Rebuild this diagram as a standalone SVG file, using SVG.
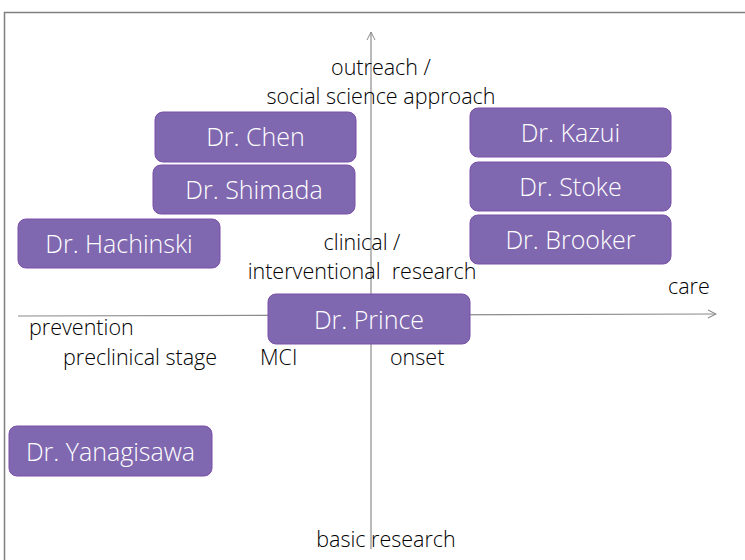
<svg xmlns="http://www.w3.org/2000/svg" width="745" height="560" viewBox="0 0 745 560">
  <defs>
    <marker id="arrow" viewBox="0 0 10 10" refX="9" refY="5" markerWidth="10" markerHeight="10" markerUnits="userSpaceOnUse" orient="auto">
      <path d="M1,1 L9,5 L1,9" fill="none" stroke="#8c8c8c" stroke-width="1"/>
    </marker>
  </defs>
  <style>
    .axis { stroke: #8c8c8c; stroke-width: 1.2; fill: none; }
    .frame { stroke: #7f7f7f; stroke-width: 1.5; fill: #ffffff; }
    .box rect { fill: #7f68af; stroke: #7a4fa8; stroke-width: 1; }
    .box text { fill: #ffffff; font-family: "Open Sans", "Liberation Sans", sans-serif; font-weight: 300; font-size: 25px; text-anchor: middle; }
    .lbl { fill: #000000; font-family: "Open Sans", "Liberation Sans", sans-serif; font-weight: 300; font-size: 21.5px; }
  </style>

  <!-- slide frame -->
  <rect class="frame" x="4.5" y="12.5" width="760" height="560"/>

  <!-- axes -->
  <g id="connectors">
    <line class="axis" x1="371" y1="549" x2="371" y2="32" marker-end="url(#arrow)"/>
    <line class="axis" x1="18" y1="316" x2="716" y2="314" marker-end="url(#arrow)"/>
  </g>

  <!-- axis labels -->
  <g id="labels">
    <text class="lbl" x="381" y="75" text-anchor="middle">outreach /</text>
    <text class="lbl" x="381" y="104" text-anchor="middle">social science approach</text>
    <text class="lbl" x="362" y="250" text-anchor="middle">clinical /</text>
    <text class="lbl" x="362" y="279" text-anchor="middle" xml:space="preserve">interventional  research</text>
    <text class="lbl" x="668" y="294">care</text>
    <text class="lbl" x="29" y="335">prevention</text>
    <text class="lbl" x="63" y="365">preclinical stage</text>
    <text class="lbl" x="260" y="365">MCI</text>
    <text class="lbl" x="390" y="365">onset</text>
    <text class="lbl" x="386" y="547" text-anchor="middle">basic research</text>
  </g>

  <!-- researcher boxes -->
  <g id="chen" class="box">
    <rect x="155" y="112" width="201" height="50" rx="8"/>
    <text x="255.5" y="146">Dr. Chen</text>
  </g>
  <g id="shimada" class="box">
    <rect x="153" y="165" width="202" height="49" rx="8"/>
    <text x="254" y="199">Dr. Shimada</text>
  </g>
  <g id="hachinski" class="box">
    <rect x="18" y="219" width="202" height="49" rx="8"/>
    <text x="119" y="253">Dr. Hachinski</text>
  </g>
  <g id="kazui" class="box">
    <rect x="470" y="108" width="201" height="49" rx="8"/>
    <text x="570.5" y="142">Dr. Kazui</text>
  </g>
  <g id="stoke" class="box">
    <rect x="470" y="162" width="201" height="49" rx="8"/>
    <text x="570.5" y="196">Dr. Stoke</text>
  </g>
  <g id="brooker" class="box">
    <rect x="470" y="215" width="201" height="49" rx="8"/>
    <text x="570.5" y="249">Dr. Brooker</text>
  </g>
  <g id="prince" class="box">
    <rect x="268" y="294" width="202" height="50" rx="8"/>
    <text x="369" y="329">Dr. Prince</text>
  </g>
  <g id="yanagisawa" class="box">
    <rect x="9" y="426" width="203" height="50" rx="8"/>
    <text x="110.5" y="461">Dr. Yanagisawa</text>
  </g>
</svg>
